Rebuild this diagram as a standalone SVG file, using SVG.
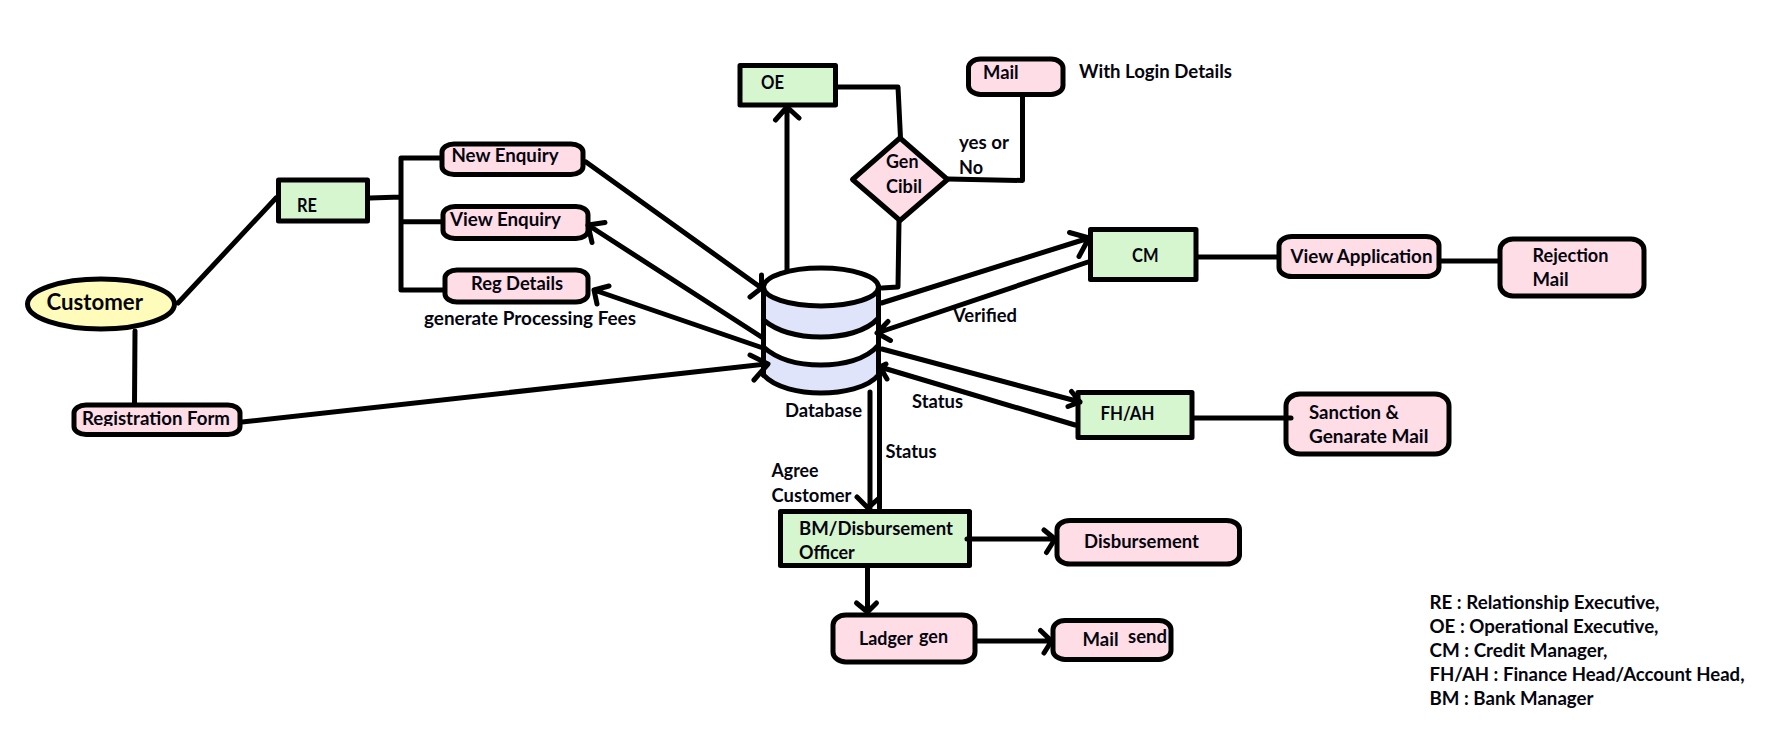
<svg xmlns="http://www.w3.org/2000/svg" width="1791" height="730" viewBox="0 0 1791 730">
<style>
text{font-family:"Lato","Liberation Sans",sans-serif;font-weight:700;font-size:18px;fill:#05050f}
.s{stroke:#000;stroke-width:5;stroke-linejoin:round}
.g{fill:#d6f6cf}.p{fill:#ffdde6}.y{fill:#fffbbb}.b{fill:#e0e4fb}.w{fill:#fff}
.c{fill:none;stroke:#000;stroke-width:5;stroke-linecap:round;stroke-linejoin:round}
</style>
<defs><clipPath id="regclip"><rect x="70" y="400" width="175" height="26"/></clipPath></defs>
<rect width="1791" height="730" fill="#fff"/>
<g id="customer"><ellipse class="s y" cx="101" cy="304" rx="73.5" ry="25"/><text x="46.5" y="310" style="font-size:23px" textLength="96.5" lengthAdjust="spacingAndGlyphs">Customer</text></g>
<g id="re"><rect class="s g" x="278.5" y="180" width="89" height="41"/><text x="297" y="212" textLength="20" lengthAdjust="spacingAndGlyphs">RE</text></g>
<g id="new-enquiry"><rect class="s p" x="442" y="144" width="141" height="30.5" rx="12" ry="8"/><text x="451.5" y="162" textLength="107" lengthAdjust="spacingAndGlyphs">New Enquiry</text></g>
<g id="view-enquiry"><rect class="s p" x="443" y="206.5" width="145" height="32" rx="12" ry="8"/><text x="450" y="225.5" textLength="111" lengthAdjust="spacingAndGlyphs">View Enquiry</text></g>
<g id="reg-details"><rect class="s p" x="445" y="270" width="143" height="32" rx="12" ry="8"/><text x="471" y="290" textLength="92" lengthAdjust="spacingAndGlyphs">Reg Details</text></g>
<text id="fees-label" x="424" y="325" textLength="212" lengthAdjust="spacingAndGlyphs">generate Processing Fees</text>
<g id="registration-form"><rect class="s p" x="74" y="405" width="166" height="29.5" rx="12" ry="8"/><text x="82" y="425" clip-path="url(#regclip)" textLength="148" lengthAdjust="spacingAndGlyphs">Registration Form</text></g>
<g id="oe"><rect class="s g" x="740" y="65.5" width="95.5" height="39.5"/><text x="761" y="89" textLength="23" lengthAdjust="spacingAndGlyphs">OE</text></g>
<g id="mail"><rect class="s p" x="968.5" y="59" width="94.5" height="35.5" rx="12" ry="9"/><text x="983" y="79" textLength="35.7" lengthAdjust="spacingAndGlyphs">Mail</text></g>
<text id="login-label" x="1079" y="78" textLength="153" lengthAdjust="spacingAndGlyphs">With Login Details</text>
<g id="gen-cibil"><polygon class="s p" points="900,138 947.5,179.5 900,220.5 852.5,179.5"/><text x="886" y="168" textLength="32.5" lengthAdjust="spacingAndGlyphs">Gen</text><text x="886" y="193" textLength="36" lengthAdjust="spacingAndGlyphs">Cibil</text></g>
<text id="yes-label" x="959" y="149" textLength="50" lengthAdjust="spacingAndGlyphs">yes or</text><text id="no-label" x="959" y="174" textLength="24" lengthAdjust="spacingAndGlyphs">No</text>
<g id="database">
<path class="s b" d="M763.5 287V375C775 388 800 393 821 393S868 388 878.5 375V287Z"/>
<path class="w" d="M763.5 320C778 332 800 337 821 337S866 332 878.5 318V345C866 360 842 365 821 365S778 360 763.5 347Z"/>
<path class="c" d="M763.5 320C778 332 800 337 821 337S866 332 878.5 318M763.5 347C778 360 800 365 821 365S866 360 878.5 345M763.5 287V375M878.5 287V375"/>
<ellipse class="s w" cx="821" cy="287" rx="57.5" ry="19"/>
<text x="785" y="417" textLength="77" lengthAdjust="spacingAndGlyphs">Database</text></g>
<g id="cm"><rect class="s g" x="1090.5" y="229.5" width="105.5" height="50"/><text x="1132" y="261.5" textLength="26.5" lengthAdjust="spacingAndGlyphs">CM</text></g>
<text id="verified-label" x="953" y="322" textLength="64" lengthAdjust="spacingAndGlyphs">Verified</text>
<g id="view-application"><rect class="s p" x="1279" y="236.5" width="160" height="40" rx="13" ry="9"/><text x="1290.5" y="262.5" textLength="142" lengthAdjust="spacingAndGlyphs">View Application</text></g>
<g id="rejection-mail"><rect class="s p" x="1500" y="239" width="144" height="57" rx="13" ry="11"/><text x="1532.5" y="262" textLength="76" lengthAdjust="spacingAndGlyphs">Rejection</text><text x="1532.5" y="286" textLength="36" lengthAdjust="spacingAndGlyphs">Mail</text></g>
<g id="fh-ah"><rect class="s g" x="1078" y="392.5" width="114" height="45"/><text x="1100.5" y="420" textLength="54" lengthAdjust="spacingAndGlyphs">FH/AH</text></g>
<text id="status-label-1" x="912" y="408" textLength="51" lengthAdjust="spacingAndGlyphs">Status</text>
<text id="status-label-2" x="885.5" y="458" textLength="51" lengthAdjust="spacingAndGlyphs">Status</text>
<g id="sanction"><rect class="s p" x="1286" y="394" width="163" height="60" rx="14" ry="12"/><text x="1309" y="419" textLength="90" lengthAdjust="spacingAndGlyphs">Sanction &amp;</text><text x="1309" y="443" textLength="119.4" lengthAdjust="spacingAndGlyphs">Genarate Mail</text></g>
<text id="agree-label-1" x="771.5" y="477" textLength="47" lengthAdjust="spacingAndGlyphs">Agree</text><text id="agree-label-2" x="771.5" y="502" textLength="80" lengthAdjust="spacingAndGlyphs">Customer</text>
<g id="bm"><rect class="s g" x="780.5" y="511.5" width="189" height="54"/><text x="799" y="535" textLength="154" lengthAdjust="spacingAndGlyphs">BM/Disbursement</text><text x="799" y="559" textLength="55.7" lengthAdjust="spacingAndGlyphs">Officer</text></g>
<g id="disbursement"><rect class="s p" x="1057" y="520.5" width="182.5" height="43.5" rx="13" ry="9"/><text x="1084" y="548" textLength="115" lengthAdjust="spacingAndGlyphs">Disbursement</text></g>
<g id="ladger"><rect class="s p" x="833" y="615" width="142" height="47" rx="13" ry="10"/><text x="859" y="645" textLength="54" lengthAdjust="spacingAndGlyphs">Ladger</text><text x="919" y="642.5" textLength="29" lengthAdjust="spacingAndGlyphs">gen</text></g>
<g id="mail-send"><rect class="s p" x="1053" y="620.5" width="118" height="39" rx="12" ry="9"/><text x="1082.5" y="645.5" textLength="36" lengthAdjust="spacingAndGlyphs">Mail</text><text x="1128" y="642.5" textLength="39" lengthAdjust="spacingAndGlyphs">send</text></g>
<g id="legend">
<text x="1429.5" y="609" textLength="230" lengthAdjust="spacingAndGlyphs">RE : Relationship Executive,</text>
<text x="1429.5" y="633" textLength="229" lengthAdjust="spacingAndGlyphs">OE : Operational Executive,</text>
<text x="1429.5" y="657" textLength="178" lengthAdjust="spacingAndGlyphs">CM : Credit Manager,</text>
<text x="1429.5" y="681" textLength="315" lengthAdjust="spacingAndGlyphs">FH/AH : Finance Head/Account Head,</text>
<text x="1429.5" y="705" textLength="164" lengthAdjust="spacingAndGlyphs">BM : Bank Manager</text>
</g>
<g id="connectors">
<path class="c" d="M178 303L276 198"/>
<path class="c" d="M135 331L134.5 403"/>
<path class="c" d="M370 198L401 197M401 158V290M401 158H440M401 221.7H441M401 290H443"/>
<path class="c" d="M242 422L767 364M750 355L768 364L754 380"/>
<path class="c" d="M586 162L761.5 288M761.5 275V288L750 297"/>
<path class="c" d="M763 338L588 225M605 222.5L588 225L592 242.5"/>
<path class="c" d="M763 348L594 290M609 286L594 290L597 304"/>
<path class="c" d="M787 270V107M775.5 120L787 107L799 118"/>
<path class="c" d="M837.5 87H898L900.5 138"/>
<path class="c" d="M899 221L898 287L882 288"/>
<path class="c" d="M948 179L1022.5 180.5V97"/>
<path class="c" d="M881.5 303L1089 238M1069.5 232.5L1089 238L1079 256.5"/>
<path class="c" d="M1088 262L877 333M888 321.5L877 333L890.5 340.5"/>
<path class="c" d="M882 349L1080 402M1071.5 391.5L1080 402L1068 406.5"/>
<path class="c" d="M1075 425L880 367M886 364L880 367L887 379"/>
<path class="c" d="M870 392V508M857 497L868 508L878 499"/>
<path class="c" d="M879.5 375V508"/>
<path class="c" d="M1198 257H1277"/>
<path class="c" d="M1441.5 261H1498"/>
<path class="c" d="M1194 418H1291"/>
<path class="c" d="M967 539H1055M1044 530L1055 539L1046.5 552.5"/>
<path class="c" d="M867.5 568V612M856.5 603L867.5 612L876.5 603"/>
<path class="c" d="M977 641H1051.5M1040.5 630.5L1051.5 641L1044 653"/>
</g>
</svg>
